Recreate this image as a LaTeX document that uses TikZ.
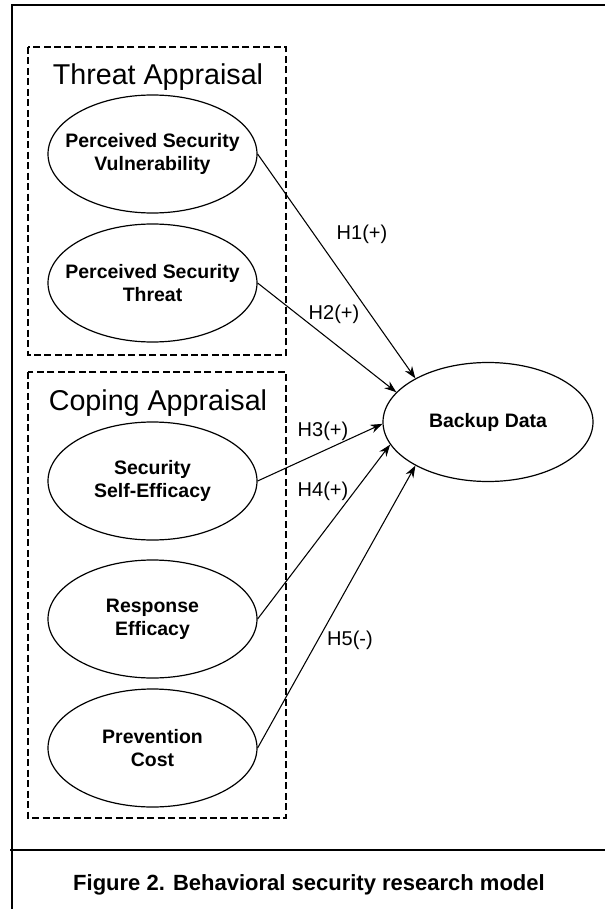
\documentclass[tikz,border=0pt]{standalone}
\usepackage{fontspec}
\setmainfont{Liberation Sans}
\usetikzlibrary{shapes.geometric,arrows.meta}
\begin{document}
\begin{tikzpicture}[x=0.75pt,y=-0.75pt,
  frame/.style={line width=1.7pt},
  groupbox/.style={draw,line width=1.7pt,dash pattern=on 5.25pt off 2.6pt},
  construct/.style={draw,ellipse,line width=0.9pt,minimum width=156.75pt,minimum height=88.5pt,inner sep=0pt},
  ctext/.style={align=center,font=\fontsize{14.6pt}{17.25pt}\selectfont\bfseries},
  grouptitle/.style={anchor=base,font=\fontsize{21.5pt}{24pt}\selectfont},
  hyp/.style={font=\fontsize{15pt}{18pt}\selectfont},
  link/.style={line width=0.8pt,-{Stealth[length=9pt,width=6.5pt]}}]
\useasboundingbox (0,0) rectangle (605,909);
% outer frame
\coordinate (ftl) at (12,5);
\coordinate (ftr) at (605,5);
\coordinate (fbl) at (12,909);
\coordinate (sl) at (10,850);
\coordinate (sr) at (605,850);
\draw[frame] (ftr) -- (ftl) -- (fbl);
\draw[frame] (sl) -- (sr);
% group boxes
\draw[groupbox] (28,47) rectangle (286,355);
\draw[groupbox] (28,372) rectangle (286,818);
\node[grouptitle] (ta) at (158,85) {Threat Appraisal};
\node[grouptitle] (ca) at (158,410) {Coping Appraisal};
% constructs
\node[construct] (psv) at (152.5,154) {};
\node[construct] (pst) at (152.5,283) {};
\node[construct] (sse) at (152.5,481) {};
\node[construct] (re) at (152.5,619) {};
\node[construct] (pc) at (152.5,748) {};
\node[construct,minimum width=157.5pt,minimum height=89.25pt] (bd) at (488,422) {};
\node[ctext] (tpsv) at (psv.center) {Perceived Security\\Vulnerability};
\node[ctext] (tpst) at (pst.center) {Perceived Security\\Threat};
\node[ctext] (tsse) at (sse.center) {Security\\Self-Efficacy};
\node[ctext] (tre) at (re.center) {Response\\Efficacy};
\node[ctext] (tpc) at (pc.center) {Prevention\\Cost};
\node[ctext] (tbd) at (bd.center) {Backup Data};
% links
\draw[link] (psv.east) -- (bd.149);
\draw[link] (pst.east) -- (bd.162);
\draw[link] (sse.east) -- (bd.181);
\draw[link] (re.east) -- (bd.193);
\draw[link] (pc.east) -- (bd.211);
% hypothesis labels
\node[hyp] (h1) at (362,234) {H1(+)};
\node[hyp] (h2) at (334,314) {H2(+)};
\node[hyp] (h3) at (323,431) {H3(+)};
\node[hyp] (h4) at (323,491) {H4(+)};
\node[hyp] (h5) at (350,640) {H5(-)};
% caption
\node[anchor=base,font=\fontsize{16.5pt}{19pt}\selectfont\bfseries] (cap) at (309,890) {Figure 2. Behavioral security research model};
\end{tikzpicture}
\end{document}
